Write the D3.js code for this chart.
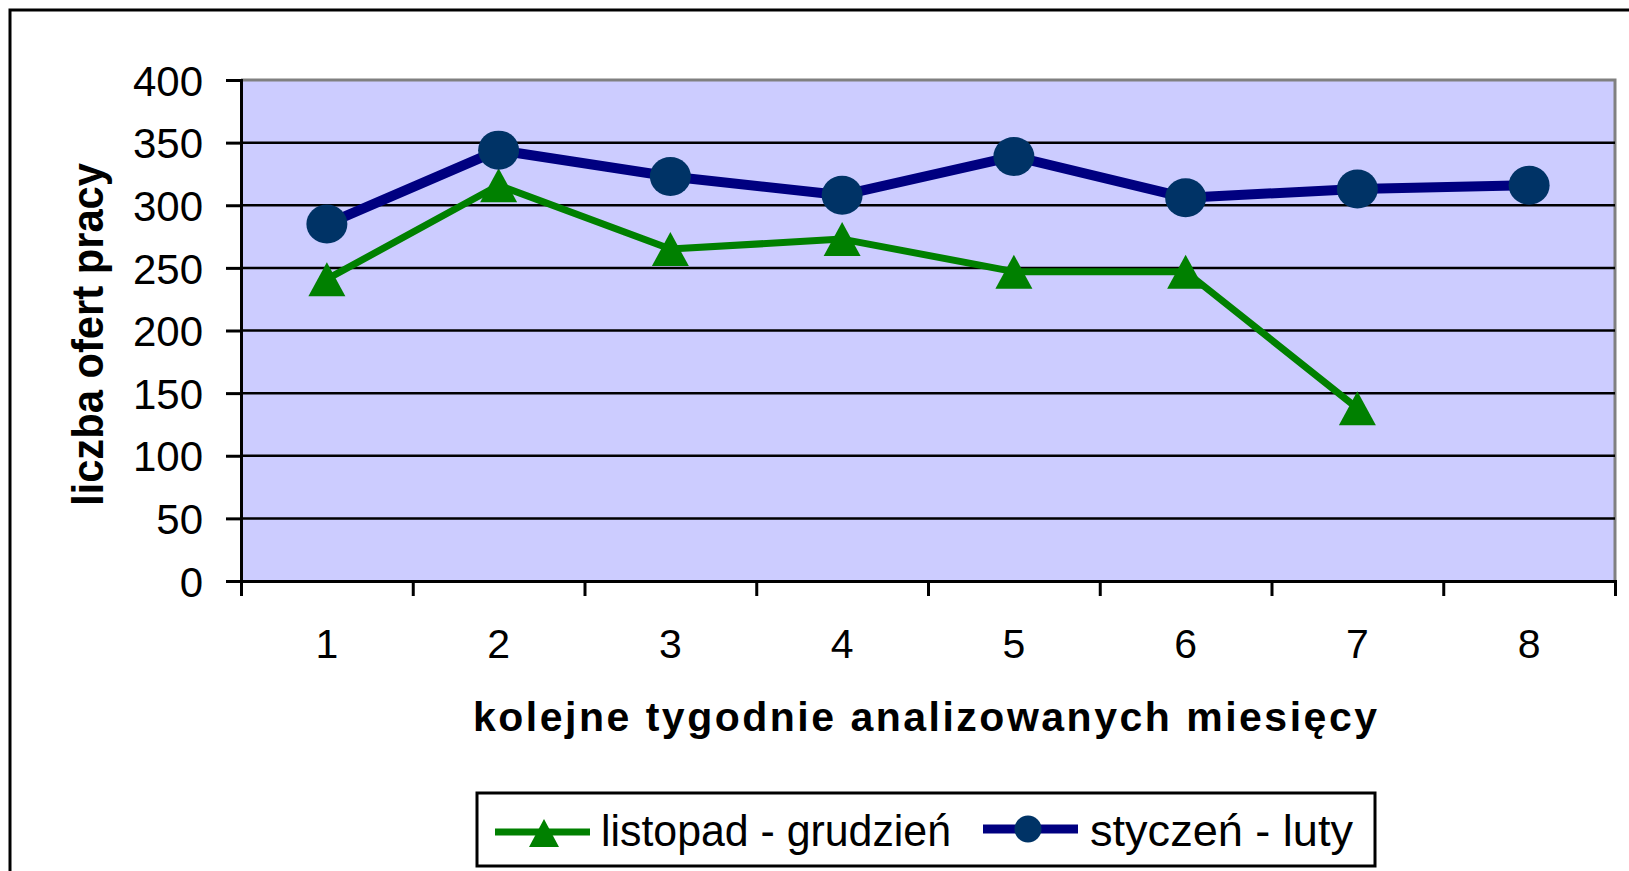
<!DOCTYPE html>
<html>
<head>
<meta charset="utf-8">
<script src="https://cdn.jsdelivr.net/npm/d3@7"></script>
<style>
  html, body { margin: 0; padding: 0; background: #fff; overflow: hidden; }
  svg text { font-family: "Liberation Sans", Arial, sans-serif; fill: #000; }
</style>
</head>
<body>
<svg id="chart"></svg>
<script>
const weeks = ["1", "2", "3", "4", "5", "6", "7", "8"];
const listopadGrudzien = [241, 316, 265, 273, 247, 247, 138];
const styczenLuty = [285, 344, 323, 308, 339, 306, 313, 316];
const yTicks = [0, 50, 100, 150, 200, 250, 300, 350, 400];
const seriesNames = ["listopad - grudzień", "styczeń - luty"];

const W = 1629, H = 871;
const plot = { left: 241, right: 1615, top: 80, bottom: 581 };

const svg = d3.select("#chart").attr("width", W).attr("height", H);

// outer frame (runs off the right and bottom edge like the source image)
svg.append("rect")
  .attr("x", 10).attr("y", 10)
  .attr("width", W + 20).attr("height", H + 20)
  .attr("fill", "#fff").attr("stroke", "#000").attr("stroke-width", 3);

const y = d3.scaleLinear().domain([0, 400]).range([plot.bottom, plot.top]);
const x = d3.scaleBand().domain(weeks).range([plot.left, plot.right]);
const xEdge = d3.scaleLinear().domain([0, weeks.length]).range([plot.left, plot.right]);

// plot background
svg.append("rect")
  .attr("x", plot.left).attr("y", plot.top)
  .attr("width", plot.right - plot.left).attr("height", plot.bottom - plot.top)
  .attr("fill", "#ccccff");

// grey border top + right
svg.append("path")
  .attr("d", `M${plot.left},${plot.top}H${plot.right}V${plot.bottom}`)
  .attr("fill", "none").attr("stroke", "#808080").attr("stroke-width", 3);

// gridlines
svg.append("g").selectAll("line")
  .data(yTicks.filter(d => d > 0 && d < 400))
  .join("line")
  .attr("x1", plot.left).attr("x2", plot.right)
  .attr("y1", d => y(d)).attr("y2", d => y(d))
  .attr("stroke", "#000").attr("stroke-width", 2.5);

// y axis
const yAxis = svg.append("g")
  .attr("transform", `translate(${plot.left},0)`)
  .call(d3.axisLeft(y).tickValues(yTicks).tickSize(15).tickPadding(23));
yAxis.select(".domain").attr("stroke", "#000").attr("stroke-width", 3);
yAxis.selectAll(".tick line").attr("stroke", "#000").attr("stroke-width", 3);
yAxis.selectAll(".tick text")
  .attr("font-size", 42).attr("font-family", "Liberation Sans, Arial, sans-serif")
  .attr("fill", "#000").attr("dy", "0.36em");

// x axis: tick marks at band edges
const xTicks = svg.append("g")
  .attr("transform", `translate(0,${plot.bottom})`)
  .call(d3.axisBottom(xEdge).tickValues(d3.range(0, weeks.length + 1)).tickSize(15).tickFormat(""));
xTicks.select(".domain").attr("stroke", "#000").attr("stroke-width", 3);
xTicks.selectAll(".tick line").attr("stroke", "#000").attr("stroke-width", 3);

// x labels at band centres
const xLabels = svg.append("g")
  .attr("transform", `translate(0,${plot.bottom})`)
  .call(d3.axisBottom(x).tickSize(0).tickPadding(0));
xLabels.select(".domain").remove();
xLabels.selectAll(".tick text")
  .attr("y", 77).attr("dy", 0)
  .attr("font-size", 41).attr("font-family", "Liberation Sans, Arial, sans-serif")
  .attr("fill", "#000");

// axis titles
svg.append("text")
  .attr("x", 473).attr("y", 731)
  .attr("font-size", 41).attr("font-weight", "bold")
  .attr("textLength", 904).attr("lengthAdjust", "spacing")
  .text("kolejne tygodnie analizowanych miesięcy");

svg.append("text")
  .attr("transform", "translate(103,506) rotate(-90)")
  .attr("font-size", 44).attr("font-weight", "bold")
  .attr("textLength", 343).attr("lengthAdjust", "spacingAndGlyphs")
  .text("liczba ofert pracy");

const cx = (d, i) => x(weeks[i]) + x.bandwidth() / 2;
const tri = (px, py, w, h) =>
  `M${px},${py - h / 2}L${px + w / 2},${py + h / 2}L${px - w / 2},${py + h / 2}Z`;

// green series
const line = d3.line().x(cx).y(d => y(d));
svg.append("path")
  .datum(listopadGrudzien)
  .attr("d", line)
  .attr("fill", "none").attr("stroke", "#008000").attr("stroke-width", 7)
  .attr("stroke-linejoin", "round");
svg.append("g").selectAll("path")
  .data(listopadGrudzien)
  .join("path")
  .attr("d", (d, i) => tri(cx(d, i), y(d), 37, 34))
  .attr("fill", "#008000");

// blue series
svg.append("path")
  .datum(styczenLuty)
  .attr("d", line)
  .attr("fill", "none").attr("stroke", "#000080").attr("stroke-width", 10)
  .attr("stroke-linejoin", "round");
svg.append("g").selectAll("ellipse")
  .data(styczenLuty)
  .join("ellipse")
  .attr("cx", cx).attr("cy", d => y(d))
  .attr("rx", 20.5).attr("ry", 19.5)
  .attr("fill", "#003366");

// legend
const lg = svg.append("g");
lg.append("rect")
  .attr("x", 477).attr("y", 793).attr("width", 898).attr("height", 73)
  .attr("fill", "#fff").attr("stroke", "#000").attr("stroke-width", 3);

lg.append("line")
  .attr("x1", 495).attr("x2", 590).attr("y1", 832).attr("y2", 832)
  .attr("stroke", "#008000").attr("stroke-width", 7);
lg.append("path").attr("d", tri(544, 833, 30, 28)).attr("fill", "#008000");
lg.append("text").attr("x", 601).attr("y", 846).attr("font-size", 45)
  .attr("textLength", 350).attr("lengthAdjust", "spacingAndGlyphs")
  .text(seriesNames[0]);

lg.append("line")
  .attr("x1", 983).attr("x2", 1078).attr("y1", 829).attr("y2", 829)
  .attr("stroke", "#000080").attr("stroke-width", 9);
lg.append("ellipse").attr("cx", 1028).attr("cy", 829).attr("rx", 13.5).attr("ry", 13.5)
  .attr("fill", "#003366");
lg.append("text").attr("x", 1090).attr("y", 846).attr("font-size", 45)
  .attr("textLength", 263).attr("lengthAdjust", "spacingAndGlyphs")
  .text(seriesNames[1]);
</script>
</body>
</html>
